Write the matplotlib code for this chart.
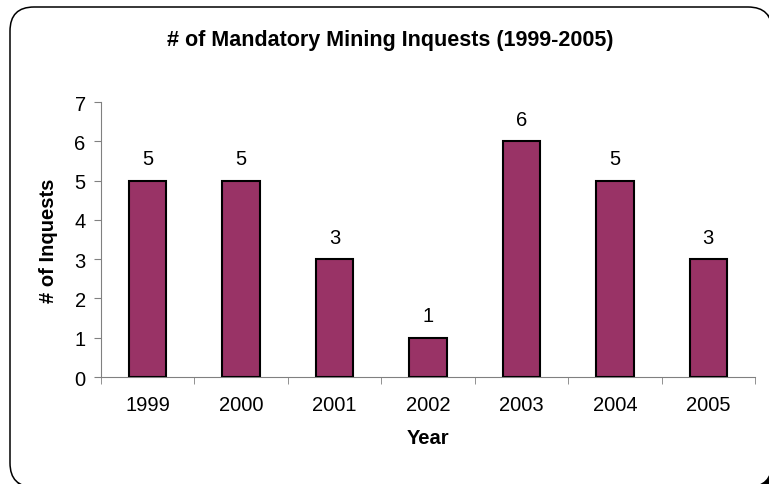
import matplotlib.pyplot as plt
from matplotlib.patches import FancyBboxPatch
import numpy as np

plt.rcParams['font.family'] = ['Liberation Sans', 'DejaVu Sans']

years = ['1999', '2000', '2001', '2002', '2003', '2004', '2005']
inquests = [5, 5, 3, 1, 6, 5, 3]

fig = plt.figure(figsize=(7.69, 4.85), dpi=100)

# rounded frame with drop shadow (inches); right and bottom edges run off the image
shadow = FancyBboxPatch((0.14, -0.07), 7.62, 4.80, boxstyle="round,pad=0,rounding_size=0.24",
                        transform=fig.dpi_scale_trans, facecolor='black', edgecolor='black',
                        zorder=-2)
frame = FancyBboxPatch((0.10, -0.03), 7.62, 4.80, boxstyle="round,pad=0,rounding_size=0.24",
                       transform=fig.dpi_scale_trans, facecolor='white', edgecolor='black',
                       linewidth=1.1, zorder=-1)
fig.patches.extend([shadow, frame])

ax = fig.add_axes([0.1313, 0.2206, 0.8505, 0.567])
ax.set_facecolor('none')
x = np.arange(len(years))
ax.bar(x, inquests, width=0.4, color='#993366', edgecolor='black', linewidth=1.5, zorder=3)
for xi, v in zip(x, inquests):
    ax.annotate(str(v), (xi, v), xytext=(0, 9), textcoords='offset points',
                ha='center', va='bottom', fontsize=14.5)

ax.set_xlim(-0.5, len(years) - 0.5)
ax.set_ylim(0, 7)
ax.set_yticks(range(8))
ax.set_xticks(x)
ax.set_xticklabels(years)
ax.set_xticks(np.arange(-0.5, len(years)), minor=True)
ax.tick_params(axis='x', which='major', length=0, pad=13, labelsize=14.5)
ax.tick_params(axis='x', which='minor', length=5, direction='out', color='#808080')
ax.tick_params(axis='y', length=5, direction='out', color='#808080', labelsize=14.5, pad=6)

for side in ['top', 'right']:
    ax.spines[side].set_visible(False)
for side in ['left', 'bottom']:
    ax.spines[side].set_color('#808080')

ax.set_xlabel('Year', fontsize=14.5, fontweight='bold', labelpad=10)
ax.set_ylabel('# of Inquests', fontsize=14.5, fontweight='bold', labelpad=12)
fig.text(0.508, 0.917, '# of Mandatory Mining Inquests (1999-2005)', ha='center', va='center',
         fontsize=15.5, fontweight='bold')

fig.savefig('out.png', dpi=100)
